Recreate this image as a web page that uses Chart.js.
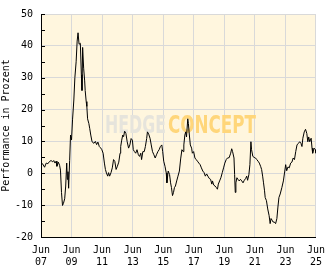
<!DOCTYPE html>
<html>
<head>
<meta charset="utf-8">
<script src="https://cdn.jsdelivr.net/npm/chart.js@4"></script>
<style>
  html, body { margin: 0; padding: 0; background: #fff; }
  #wrap { width: 332px; height: 269px; }
</style>
</head>
<body>
<div id="wrap"><canvas id="perf-chart" width="332" height="269"></canvas></div>
<script>
// months since Jun 2007 and performance in percent
var months = [
  0, 1.2, 2.8, 4.1, 5.4, 6.7, 7.9, 9.2, 10, 11, 11.9, 12.5, 13.6, 14.6, 15.3, 16.1, 16.9, 17.6, 18.6, 19.4,
  20.2, 20.7, 21.2, 21.7, 22.5, 23.2, 24, 24.8, 25.8, 26.6, 27.6, 28.4, 29.1, 29.9, 30.9, 31.7, 32.2, 32.7, 33.5, 34.3,
  34.7, 35.5, 36, 36.6, 37.6, 38.3, 39.1, 40.1, 41.6, 42.7, 43.7, 44.7, 45.8, 46.8, 47.8, 48.8, 49.8, 50.6, 51.4, 52.4,
  53.1, 53.9, 55, 56, 57, 58, 59, 60, 61.1, 62.1, 62.6, 63.4, 64.2, 64.9, 65.7, 66.7, 67.7, 68.8, 69.8, 70.8,
  71.8, 72.5, 73.4, 74.4, 75.4, 76.5, 77.4, 78.4, 79, 80, 81.1, 82, 83, 83.6, 84.6, 85.7, 86.6, 87.6, 88.7, 89.7,
  90.7, 91.8, 92.8, 93.8, 94.9, 95.6, 96.4, 97.4, 98.4, 98.9, 99.9, 101, 101.8, 102.5, 103.3, 104.1, 104.8, 105.6, 106.6, 107.6,
  108.7, 109.7, 110.7, 111.7, 112.2, 113, 113.7, 114.3, 115.3, 115.8, 116.3, 117.3, 118.3, 118.9, 119.9, 120.9, 121.9, 122.9, 124, 125,
  126, 127.1, 128.1, 129.1, 130.1, 131.1, 132.1, 133.2, 134.2, 134.7, 135.7, 136.7, 137.8, 138.6, 139.3, 140.3, 141.3, 142.4, 143.4, 144.4,
  145.5, 146.5, 147.8, 149, 149.8, 150.5, 151.6, 152.1, 152.6, 153.1, 153.9, 154.7, 155.7, 156.7, 157.7, 158.7, 159.7, 160.8, 161.6, 162.3,
  163.3, 164.1, 164.9, 165.4, 166.4, 167.4, 168.5, 169.5, 170.5, 171.5, 172.5, 173.3, 174.1, 174.8, 175.6, 176.1, 177.1, 178.1, 179.2, 180,
  180.7, 181.5, 182.3, 183.3, 184.3, 185.3, 186.1, 186.9, 187.9, 189.2, 190.4, 191.5, 192.2, 193, 194, 195, 196.1, 197.1, 198.1, 199.1,
  200.1, 201.1, 202.2, 203.2, 204.2, 205, 205.7, 206.8, 207.8, 208.8, 209.6, 210.3, 211.1, 212.2, 212.9, 213.4, 214.5, 215.5, 216
];
var perf = [
  2.8, 3.0, 1.9, 3.2, 3.0, 3.7, 4.0, 3.6, 4.0, 3.2, 3.8, 2.2, 3.5, 2.5, 1.0, -6, -10.1, -9.5, -8, -4,
  3.2, -1.9, 0.5, -4.7, 4, 12, 10.5, 17, 23, 30, 35, 41.5, 44.1, 40.5, 40.8, 31, 26, 39.5, 33, 29,
  26, 22.5, 21, 17.1, 15.6, 14, 12, 9.9, 9.4, 10, 9, 9.8, 8.4, 8, 7.4, 6.3, 3.2, 1.2, 0.1, -0.9,
  0.2, -0.9, 0.2, 1.7, 4.3, 3.7, 1.2, 2.2, 3.5, 6.3, 8.4, 10.4, 12, 11.5, 13.2, 12.5, 9.9, 7.9, 8.9, 10.9,
  10.4, 7.4, 6.8, 6.3, 7.4, 5.8, 5.3, 6.3, 4.3, 6.8, 6.8, 8.4, 10.9, 13, 12.3, 10.9, 8.9, 6.8, 5.8, 4.8,
  5.8, 6.8, 7.4, 8.4, 8.9, 6.8, 3.8, 2.2, 0.1, -3, 0.7, -0.4, -3, -4.5, -7, -6, -4.5, -4, -2.4, -0.9,
  0.7, 4.5, 7.4, 6.8, 8.9, 12, 13, 11.4, 17.1, 15.6, 13, 8.9, 7.9, 6.3, 6.8, 4.8, 4.3, 3.8, 3.2, 2.7,
  1.7, 0.7, 0.2, -0.9, -0.2, -0.9, -1.6, -1.9, -3.4, -2.4, -3.7, -4, -4.5, -5, -3.4, -2.4, -1.4, 0.2, 1.7, 3.2,
  4.3, 4.8, 4.9, 6.3, 7.7, 6.8, 4.8, -0.4, -6, -3, -1.4, -1.9, -2.4, -1.9, -2.4, -3, -2.2, -1.6, -0.9, -2.2,
  -0.4, 2.7, 9.9, 7.4, 5.3, 5, 4.8, 4.3, 3.8, 3.2, 2.2, 1.2, -0.9, -3, -5.5, -7.6, -8.6, -11.2, -13.3, -15.8,
  -14.2, -14.7, -15.3, -15.3, -15.8, -14.2, -10.6, -7.6, -6.5, -4.5, -2.4, 0.7, 2.7, 0.8, 2, 1.7, 3.2, 3.5, 4.8, 4.3,
  6.8, 8.9, 9.4, 9.9, 9.4, 8.4, 11, 13, 13.8, 12.5, 9.9, 11.4, 9.9, 11, 7.9, 6.3, 7.9, 7.4, 6.3
];
var yearLabels = ["07", "09", "11", "13", "15", "17", "19", "21", "23", "25"];

var FONT = "'DejaVu Sans Mono', monospace";

// cream plot background, watermark and the small black ticks on the y axis
var decor = {
  id: "decor",
  beforeDraw: function (chart) {
    var a = chart.chartArea, ctx = chart.ctx;
    ctx.save();
    ctx.fillStyle = "#fff6de";
    ctx.fillRect(a.left, a.top, a.right - a.left, a.bottom - a.top);
    ctx.restore();
  },
  beforeDatasetsDraw: function (chart) {
    var ctx = chart.ctx;
    function word(text, color, x0, x1, base) {
      ctx.save();
      ctx.font = "bold 25px 'DejaVu Sans', sans-serif";
      var w = ctx.measureText(text).width;
      ctx.translate(x0, base);
      ctx.scale((x1 - x0) / w, 1);
      ctx.fillStyle = color;
      ctx.fillText(text, 0, 0);
      ctx.restore();
    }
    word("HEDGE", "#e6e4dc", 105, 166, 133);
    word("CONCEPT", "#ffd67a", 168, 256, 133);
  },
  afterDraw: function (chart) {
    var ys = chart.scales.y, ctx = chart.ctx, a = chart.chartArea;
    ctx.save();
    ctx.strokeStyle = "#000";
    ctx.lineWidth = 1;
    for (var v = ys.min; v <= ys.max; v += 5) {
      var py = Math.round(ys.getPixelForValue(v)) + 0.5;
      ctx.beginPath();
      ctx.moveTo(a.left, py);
      ctx.lineTo(a.left + 4, py);
      ctx.stroke();
    }
    ctx.restore();
  }
};

new Chart("perf-chart", {
  type: "line",
  data: {
    datasets: [{
      data: months.map(function (m, i) { return { x: m, y: perf[i] }; }),
      borderColor: "#000",
      borderWidth: 1,
      pointRadius: 0,
      tension: 0,
      fill: false
    }]
  },
  options: {
    responsive: false,
    animation: false,
    layout: { padding: { top: 10, right: 9, left: 0, bottom: 0 } },
    plugins: { legend: { display: false }, tooltip: { enabled: false } },
    scales: {
      x: {
        type: "linear",
        min: 0,
        max: 216,
        afterFit: function (s) { s.height = 32; },
        border: { color: "#000", width: 1 },
        grid: { color: "#d9d9d9", drawTicks: false },
        ticks: {
          stepSize: 24,
          autoSkip: false,
          maxRotation: 0,
          padding: 7,
          color: "#000",
          font: { family: FONT, size: 10, lineHeight: 1.25 },
          callback: function (v) { return ["Jun", yearLabels[v / 24]]; }
        }
      },
      y: {
        min: -20,
        max: 50,
        afterFit: function (s) { s.width = 41; },
        border: { color: "#000", width: 1 },
        grid: { color: "#d9d9d9", drawTicks: false },
        ticks: {
          stepSize: 10,
          padding: 8,
          color: "#000",
          font: { family: FONT, size: 10 }
        },
        title: {
          display: true,
          text: "Performance in Prozent",
          color: "#000",
          padding: 0,
          font: { family: FONT, size: 10 }
        }
      }
    }
  },
  plugins: [decor]
});
</script>
</body>
</html>
